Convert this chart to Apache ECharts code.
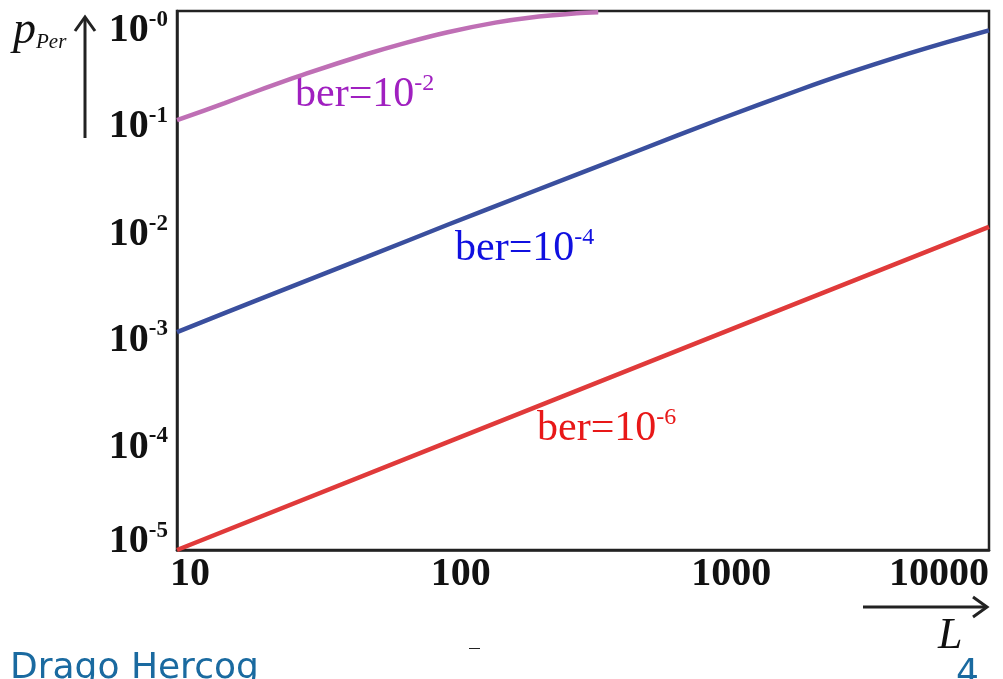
<!DOCTYPE html>
<html>
<head>
<meta charset="utf-8">
<script src="https://cdn.jsdelivr.net/npm/echarts@6/dist/echarts.min.js"></script>
<style>
  html, body { margin: 0; padding: 0; background: #fff; }
  #chart { width: 1003px; height: 679px; }
</style>
</head>
<body>
<div id="chart"></div>
<script>
// block length L and probability of packet error
var lenBer2 = [10, 15, 20, 30, 50, 70, 100, 150, 200, 300, 360]
var perBer2 = [0.097, 0.14, 0.183, 0.262, 0.397, 0.507, 0.636, 0.78, 0.866, 0.951, 0.973]
var lenBer4 = [10, 20, 50, 100, 200, 500, 1000, 2000, 3000, 5000, 7000, 10000]
var perBer4 = [0.00105, 0.0021, 0.0052, 0.0104, 0.0205, 0.05, 0.098, 0.186, 0.265, 0.4, 0.515, 0.66]
var lenBer6 = [10, 100, 1000, 10000]
var perBer6 = [0.00001, 0.0001, 0.001, 0.00995]

function pairs(xs, ys) {
  return xs.map(function (x, i) { return [x, ys[i]] })
}

var serif = '"Liberation Serif", "DejaVu Serif", serif'
var sans = '"DejaVu Sans", sans-serif'
var chart = echarts.init(document.getElementById('chart'))

// small vertical nudges of the y labels, as placed on the slide
var yLabelShift = { '0': 20, '-1': 8, '-2': 8, '-3': 6, '-4': 5, '-5': -8 }
var yRich = {}
Object.keys(yLabelShift).forEach(function (k, i) {
  var d = yLabelShift[k]
  var top = d > 0 ? 2 * d : 0
  var bot = d < 0 ? -2 * d : 0
  yRich['a' + i] = { color: '#111', fontFamily: serif, fontWeight: 'bold', fontSize: 40, padding: [top, 0, bot, 0] }
  yRich['b' + i] = { color: '#111', fontFamily: serif, fontWeight: 'bold', fontSize: 23, padding: [top, 0, bot + 22, 0] }
})
var yKeys = Object.keys(yLabelShift)

function supText(color, sup) {
  return {
    text: '{t|ber=10}{s|' + sup + '}',
    rich: {
      t: { fill: color, fontFamily: serif, fontSize: 42 },
      s: { fill: color, fontFamily: serif, fontSize: 24, padding: [0, 0, 22, 0] }
    }
  }
}

var option = {
  animation: false,
  grid: {
    left: 177, right: 14, top: 11, bottom: 129,
    show: true, borderColor: '#222', borderWidth: 2.5
  },
  xAxis: {
    type: 'log',
    logBase: 10,
    min: 10,
    max: 10000,
    axisLine: { show: true, lineStyle: { color: '#222', width: 2.5 } },
    axisTick: { show: false },
    splitLine: { show: false },
    axisLabel: {
      color: '#111',
      fontFamily: serif,
      fontWeight: 'bold',
      fontSize: 40,
      margin: 5,
      padding: [0, 0, 0, 26],
      alignMaxLabel: 'right',
      formatter: function (v) { return String(Math.round(v)) }
    }
  },
  yAxis: {
    type: 'log',
    logBase: 10,
    min: 0.00001,
    max: 1,
    axisLine: { show: true, lineStyle: { color: '#222', width: 2.5 } },
    axisTick: { show: false },
    splitLine: { show: false },
    axisLabel: {
      margin: 9,
      formatter: function (v) {
        var e = Math.round(Math.log10(v))
        var i = yKeys.indexOf(String(e))
        if (i < 0) i = 0
        return '{a' + i + '|10}{b' + i + '|-' + (-e) + '}'
      },
      rich: yRich
    }
  },
  series: [
    {
      name: 'ber=10^-2', type: 'line', showSymbol: false, smooth: 0.3,
      lineStyle: { color: '#bf6fb5', width: 4.5 },
      data: pairs(lenBer2, perBer2)
    },
    {
      name: 'ber=10^-4', type: 'line', showSymbol: false, smooth: 0.3,
      lineStyle: { color: '#3a4f9e', width: 4.5 },
      data: pairs(lenBer4, perBer4)
    },
    {
      name: 'ber=10^-6', type: 'line', showSymbol: false,
      lineStyle: { color: '#e03a3a', width: 4.5 },
      data: pairs(lenBer6, perBer6)
    }
  ],
  graphic: [
    // curve labels
    { type: 'text', left: 295, top: 72, style: supText('#a020c0', '-2') },
    { type: 'text', left: 455, top: 226, style: supText('#1010e0', '-4') },
    { type: 'text', left: 537, top: 406, style: supText('#e81818', '-6') },
    // y axis arrow and name
    { type: 'line', shape: { x1: 85, y1: 138, x2: 85, y2: 18 }, style: { stroke: '#222', lineWidth: 3 } },
    { type: 'polyline', shape: { points: [[75, 31], [85, 17], [95, 31]] }, style: { stroke: '#222', lineWidth: 3, fill: null } },
    { type: 'text', left: 13, top: 8, style: { text: '{p|p}{s|Per}', rich: {
      p: { fill: '#111', fontFamily: serif, fontStyle: 'italic', fontSize: 46 },
      s: { fill: '#111', fontFamily: serif, fontStyle: 'italic', fontSize: 21, padding: [22, 0, 0, 0] } } } },
    // x axis arrow and name
    { type: 'line', shape: { x1: 863, y1: 607, x2: 986, y2: 607 }, style: { stroke: '#222', lineWidth: 3 } },
    { type: 'polyline', shape: { points: [[973, 597], [987, 607], [973, 617]] }, style: { stroke: '#222', lineWidth: 3, fill: null } },
    { type: 'text', left: 938, top: 614, style: { text: 'L', fill: '#111', fontFamily: serif, fontStyle: 'italic', fontSize: 44 } },
    // slide footer, cut off by the bottom edge as on the slide
    { type: 'text', x: 10, y: 651, style: { text: 'Drago Hercog', fill: '#1a6aa0', fontFamily: sans, fontSize: 36 } },
    { type: 'text', x: 956, y: 657, style: { text: '4', fill: '#1a6aa0', fontFamily: sans, fontSize: 36 } },
    { type: 'rect', shape: { x: 469, y: 648, width: 11, height: 1 }, style: { fill: '#222' } }
  ]
}

chart.setOption(option)
</script>
</body>
</html>
